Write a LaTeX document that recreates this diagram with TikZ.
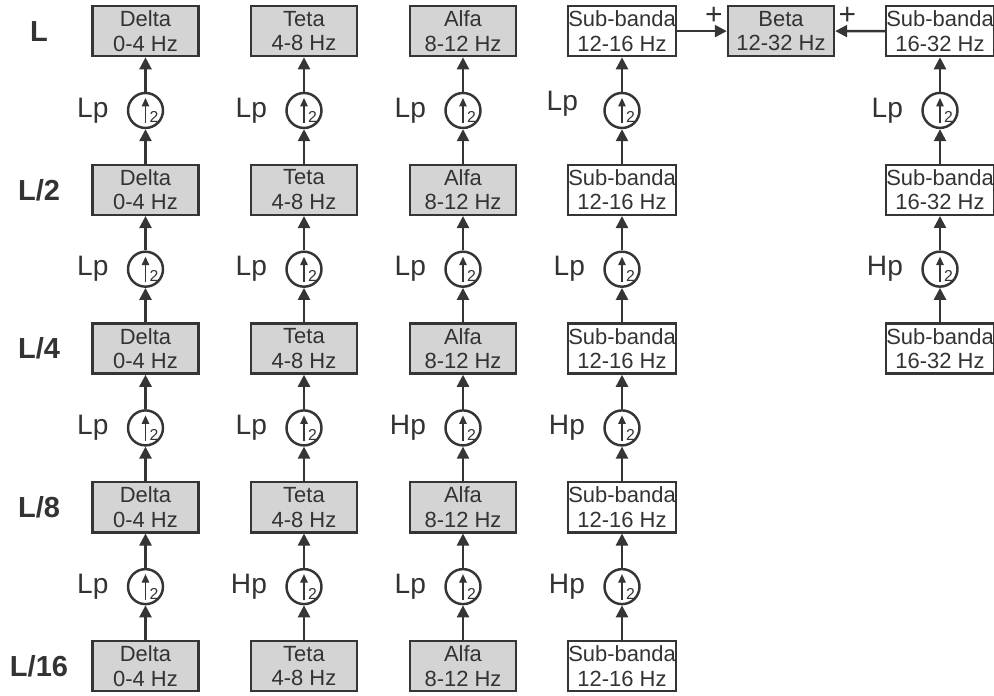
\documentclass[tikz,border=0pt]{standalone}
\usepackage{fontspec}
\setmainfont{Liberation Sans}
\usetikzlibrary{arrows.meta, positioning}
\definecolor{linegray}{HTML}{353535}
\definecolor{boxgray}{HTML}{D4D4D4}
\definecolor{txtgray}{HTML}{333333}
\tikzset{
    block/.style={
        rectangle,
        draw=linegray,
        fill=boxgray,
        line width=1.4pt,
        minimum width=2.12cm,
        minimum height=1.0cm,
        inner xsep=0pt,
        inner ysep=1pt,
        align=center,
        text=txtgray,
        font=\fontsize{12.5}{14}\selectfont
    },
    subband/.style={
        block,
        fill=white
    },
    upsam/.style={
        circle,
        draw=linegray,
        fill=white,
        line width=1.4pt,
        minimum size=0.7cm,
        inner sep=0pt,
        path picture={
            \draw [linegray, line width=0.7pt, -{Triangle[length=0.17cm,width=0.15cm]}]
                ([yshift=-0.26cm]path picture bounding box.center) --
                ([yshift=0.25cm]path picture bounding box.center);
            \node [anchor=center, text=txtgray, inner sep=0pt, font=\fontsize{9}{9}\selectfont]
                at ([xshift=0.17cm,yshift=-0.14cm]path picture bounding box.center) {2};
        }
    },
    filt/.style={
        inner sep=0pt,
        text=txtgray,
        font=\fontsize{16}{19}\selectfont
    },
    level/.style={
        text=txtgray,
        font=\fontsize{16.5}{20}\selectfont\bfseries
    },
    sign/.style={
        inner sep=0pt,
        text=txtgray,
        font=\fontsize{17}{20}\selectfont
    },
    arrow/.style={
        draw=linegray,
        line width=1.4pt,
        -{Triangle[length=0.24cm,width=0.24cm]}
    }
}

\begin{document}
\begin{tikzpicture}[node distance=0.688cm]

\useasboundingbox (0,0) rectangle (19.88,13.92);

% Delta column
\node (d5) [block] at (2.91,0.6) {Delta\\0-4 Hz};
\node (ud4) [upsam, above=of d5] {};
\node (d4) [block, above=of ud4] {Delta\\0-4 Hz};
\node (ud3) [upsam, above=of d4] {};
\node (d3) [block, above=of ud3] {Delta\\0-4 Hz};
\node (ud2) [upsam, above=of d3] {};
\node (d2) [block, above=of ud2] {Delta\\0-4 Hz};
\node (ud1) [upsam, above=of d2] {};
\node (d1) [block, above=of ud1] {Delta\\0-4 Hz};

% Teta column
\node (t5) [block] at (6.08,0.6) {Teta\\4-8 Hz};
\node (ut4) [upsam, above=of t5] {};
\node (t4) [block, above=of ut4] {Teta\\4-8 Hz};
\node (ut3) [upsam, above=of t4] {};
\node (t3) [block, above=of ut3] {Teta\\4-8 Hz};
\node (ut2) [upsam, above=of t3] {};
\node (t2) [block, above=of ut2] {Teta\\4-8 Hz};
\node (ut1) [upsam, above=of t2] {};
\node (t1) [block, above=of ut1] {Teta\\4-8 Hz};

% Alfa column
\node (a5) [block] at (9.26,0.6) {Alfa\\8-12 Hz};
\node (ua4) [upsam, above=of a5] {};
\node (a4) [block, above=of ua4] {Alfa\\8-12 Hz};
\node (ua3) [upsam, above=of a4] {};
\node (a3) [block, above=of ua3] {Alfa\\8-12 Hz};
\node (ua2) [upsam, above=of a3] {};
\node (a2) [block, above=of ua2] {Alfa\\8-12 Hz};
\node (ua1) [upsam, above=of a2] {};
\node (a1) [block, above=of ua1] {Alfa\\8-12 Hz};

% Sub-banda 12-16 Hz column
\node (s5) [subband] at (12.44,0.6) {Sub-banda\\12-16 Hz};
\node (us4) [upsam, above=of s5] {};
\node (s4) [subband, above=of us4] {Sub-banda\\12-16 Hz};
\node (us3) [upsam, above=of s4] {};
\node (s3) [subband, above=of us3] {Sub-banda\\12-16 Hz};
\node (us2) [upsam, above=of s3] {};
\node (s2) [subband, above=of us2] {Sub-banda\\12-16 Hz};
\node (us1) [upsam, above=of s2] {};
\node (s1) [subband, above=of us1] {Sub-banda\\12-16 Hz};

% Sub-banda 16-32 Hz column
\node (h3) [subband] at (18.80,6.95) {Sub-banda\\16-32 Hz};
\node (uh2) [upsam, above=of h3] {};
\node (h2) [subband, above=of uh2] {Sub-banda\\16-32 Hz};
\node (uh1) [upsam, above=of h2] {};
\node (h1) [subband, above=of uh1] {Sub-banda\\16-32 Hz};

% Beta
\node (beta) [block] at (s1 -| 15.62,0) {Beta\\12-32 Hz};
\node (plusl) [sign] at ([xshift=-0.26cm,yshift=0.31cm]beta.west) {+};
\node (plusr) [sign] at ([xshift=0.24cm,yshift=0.31cm]beta.east) {+};

% filter labels
\node (fd1) [filt, left=0.36cm of ud1] {Lp};
\node (fd2) [filt, left=0.36cm of ud2] {Lp};
\node (fd3) [filt, left=0.36cm of ud3] {Lp};
\node (fd4) [filt, left=0.36cm of ud4] {Lp};
\node (ft1) [filt, left=0.36cm of ut1] {Lp};
\node (ft2) [filt, left=0.36cm of ut2] {Lp};
\node (ft3) [filt, left=0.36cm of ut3] {Lp};
\node (ft4) [filt, left=0.36cm of ut4] {Hp};
\node (fa1) [filt, left=0.36cm of ua1] {Lp};
\node (fa2) [filt, left=0.36cm of ua2] {Lp};
\node (fa3) [filt, left=0.36cm of ua3] {Hp};
\node (fa4) [filt, left=0.36cm of ua4] {Lp};
\node (fs1) [filt, left=0.36cm of us1, xshift=-0.14cm, yshift=0.14cm] {Lp};
\node (fs2) [filt, left=0.36cm of us2] {Lp};
\node (fs3) [filt, left=0.36cm of us3] {Hp};
\node (fs4) [filt, left=0.36cm of us4] {Hp};
\node (fh1) [filt, left=0.36cm of uh1] {Lp};
\node (fh2) [filt, left=0.36cm of uh2] {Hp};

% levels
\coordinate (lev) at (0.78,0);
\node (lev1) [level] at (lev |- d1) {L};
\node (lev2) [level] at (lev |- d2) {L/2};
\node (lev3) [level] at (lev |- d3) {L/4};
\node (lev4) [level] at (lev |- d4) {L/8};
\node (lev5) [level] at (lev |- d5) {L/16};

% connectors
\draw [arrow] (d5) -- (ud4);
\draw [arrow] (ud4) -- (d4);
\draw [arrow] (d4) -- (ud3);
\draw [arrow] (ud3) -- (d3);
\draw [arrow] (d3) -- (ud2);
\draw [arrow] (ud2) -- (d2);
\draw [arrow] (d2) -- (ud1);
\draw [arrow] (ud1) -- (d1);

\draw [arrow] (t5) -- (ut4);
\draw [arrow] (ut4) -- (t4);
\draw [arrow] (t4) -- (ut3);
\draw [arrow] (ut3) -- (t3);
\draw [arrow] (t3) -- (ut2);
\draw [arrow] (ut2) -- (t2);
\draw [arrow] (t2) -- (ut1);
\draw [arrow] (ut1) -- (t1);

\draw [arrow] (a5) -- (ua4);
\draw [arrow] (ua4) -- (a4);
\draw [arrow] (a4) -- (ua3);
\draw [arrow] (ua3) -- (a3);
\draw [arrow] (a3) -- (ua2);
\draw [arrow] (ua2) -- (a2);
\draw [arrow] (a2) -- (ua1);
\draw [arrow] (ua1) -- (a1);

\draw [arrow] (s5) -- (us4);
\draw [arrow] (us4) -- (s4);
\draw [arrow] (s4) -- (us3);
\draw [arrow] (us3) -- (s3);
\draw [arrow] (s3) -- (us2);
\draw [arrow] (us2) -- (s2);
\draw [arrow] (s2) -- (us1);
\draw [arrow] (us1) -- (s1);

\draw [arrow] (h3) -- (uh2);
\draw [arrow] (uh2) -- (h2);
\draw [arrow] (h2) -- (uh1);
\draw [arrow] (uh1) -- (h1);

\draw [arrow] (s1) -- (beta);
\draw [arrow] (h1) -- (beta);

\end{tikzpicture}
\end{document}
